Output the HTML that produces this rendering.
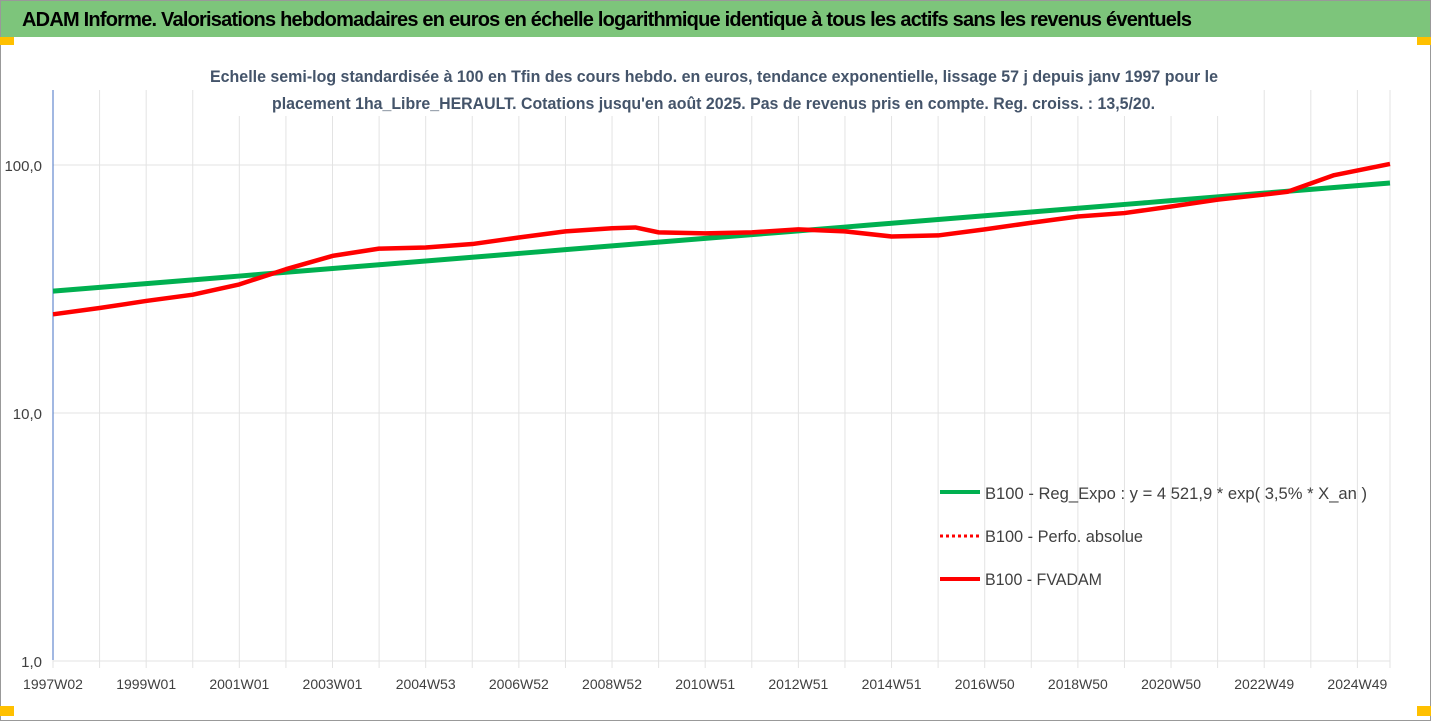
<!DOCTYPE html>
<html><head><meta charset="utf-8"><style>
body{margin:0;width:1431px;height:721px;background:#fff;overflow:hidden;font-family:"Liberation Sans",sans-serif}
</style></head><body>
<svg width="1431" height="721" style="position:absolute;left:0;top:0">
<rect x="0.5" y="0.5" width="1430" height="720" fill="#fff" stroke="#999"/>
<rect x="1" y="1" width="1429" height="36" fill="#7dc57b"/>
<rect x="0" y="37" width="14" height="8" fill="#ffc000"/>
<rect x="1417" y="37" width="14" height="8" fill="#ffc000"/>
<rect x="0" y="706" width="14" height="10" fill="#ffc000"/>
<rect x="1417" y="706" width="14" height="10" fill="#ffc000"/>
<text x="22" y="26" font-size="20" font-weight="bold" fill="#000" textLength="1170">ADAM Informe. Valorisations hebdomadaires en euros en échelle logarithmique identique à tous les actifs sans les revenus éventuels</text>
<g id="grid"></g>
<rect x="205" y="88" width="1020" height="28" fill="#fff"/>
<text x="210" y="82" font-size="16.5" font-weight="bold" fill="#44546a" textLength="1008" lengthAdjust="spacingAndGlyphs">Echelle semi-log standardisée à 100 en Tfin des cours hebdo. en euros, tendance exponentielle, lissage 57 j depuis janv 1997 pour le</text>
<text x="272" y="109" font-size="16.5" font-weight="bold" fill="#44546a" textLength="883" lengthAdjust="spacingAndGlyphs">placement 1ha_Libre_HERAULT. Cotations jusqu'en août 2025. Pas de revenus pris en compte. Reg. croiss. : 13,5/20.</text>
<g id="axes"></g><g id="series"></g>
<g>
<line x1="940" y1="492" x2="980" y2="492" stroke="#00b050" stroke-width="4"/>
<text x="985" y="499" font-size="17" fill="#404040" textLength="382" lengthAdjust="spacingAndGlyphs">B100 - Reg_Expo : y = 4 521,9 * exp( 3,5% *  X_an )</text>
<line x1="940" y1="536" x2="980" y2="536" stroke="#ff0000" stroke-width="3" stroke-dasharray="3,3"/>
<text x="985" y="542" font-size="17" fill="#404040" textLength="158" lengthAdjust="spacingAndGlyphs">B100 - Perfo. absolue</text>
<line x1="940" y1="579" x2="980" y2="579" stroke="#ff0000" stroke-width="4"/>
<text x="985" y="585" font-size="17" fill="#404040" textLength="117" lengthAdjust="spacingAndGlyphs">B100 - FVADAM</text>
</g>
</svg>
<script>
const xLabels=["1997W02","1999W01","2001W01","2003W01","2004W53","2006W52","2008W52","2010W51","2012W51","2014W51","2016W50","2018W50","2020W50","2022W49","2024W49"];
const yTicks=[1,10,100];
const yTickLabels=["1,0","10,0","100,0"];
const redT=[0,1,2,3,4,5,6,7,8,9,10,11,12,12.5,13,14,15,16,17,18,19,20,21,22,23,24,25,26,26.5,27.5,28.7];
const redV=[25,26.5,28.3,30,33,38,43,46,46.5,48,51,54,55.6,56,53.5,53,53.5,55,54,51.5,52,55,58.5,62,64,68,72.5,76,78,91,101];
const greenStart=31, greenRate=0.035, tEnd=28.7;
const X0=53,X1=1390,YT=165,DEC=248;
const xs=t=>X0+(X1-X0)*t/tEnd;
const ys=v=>YT+(2-Math.log10(v))*DEC;
const NS="http://www.w3.org/2000/svg";
function mk(tag,attrs,parent){const e=document.createElementNS(NS,tag);for(const k in attrs)e.setAttribute(k,attrs[k]);document.getElementById(parent).appendChild(e);return e;}
for(let i=0;i<=29;i++){const x=Math.min(xs(i),X1);
const g=mk('line',{x1:x,y1:90,x2:x,y2:668,stroke:'#e3e3e3','stroke-width':1},'grid');

}
yTicks.forEach((v,i)=>{const y=ys(v);
const l=mk('line',{x1:X0,y1:y,x2:X1,y2:y,stroke:'#e3e3e3'},'grid');


const t=mk('text',{x:42,y:y+6,'font-size':15,fill:'#404040','text-anchor':'end'},'axes');t.textContent=yTickLabels[i];

});
const ax=mk('line',{x1:X0,y1:90,x2:X0,y2:660,stroke:'#4472c4'},'axes');


xLabels.forEach((s,i)=>{const t=mk('text',{x:xs(i*2),y:689,'font-size':14,fill:'#404040','text-anchor':'middle'},'axes');t.textContent=s;

});
let gp=[];for(let t=0;t<=tEnd;t+=0.5)gp.push(xs(t)+','+ys(greenStart*Math.exp(greenRate*t)));
gp.push(xs(tEnd)+','+ys(greenStart*Math.exp(greenRate*tEnd)));
const gl=mk('polyline',{points:gp.join(' '),fill:'none',stroke:'#00b050','stroke-width':5},'series');


const rp=redT.map((t,i)=>xs(t)+','+ys(redV[i])).join(' ');
const rl=mk('polyline',{points:rp,fill:'none',stroke:'#ff0000','stroke-width':4.5,'stroke-linejoin':'round'},'series');


</script>
</body></html>
